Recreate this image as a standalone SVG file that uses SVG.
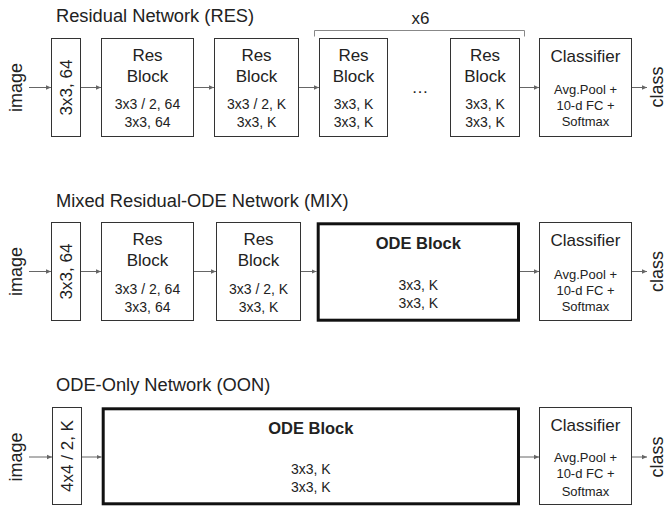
<svg xmlns="http://www.w3.org/2000/svg" width="668" height="506" viewBox="0 0 668 506">
<defs>
<marker id="ah" markerWidth="6" markerHeight="6" refX="5" refY="3" orient="auto" markerUnits="userSpaceOnUse">
<path d="M0,0.8 L5,3 L0,5.2 Z" fill="#666"/>
</marker>
<style>
text{font-family:"Liberation Sans",Arial,sans-serif;fill:#222}
.title{font-size:18.3px}
.big{font-size:17px;text-anchor:middle}
.lab{font-size:18px;text-anchor:middle}
.sm{font-size:14px;text-anchor:middle}
.xs{font-size:13px;text-anchor:middle}
.bold{font-size:16.5px;font-weight:bold;text-anchor:middle}
.box{fill:#fff;stroke:#333;stroke-width:1}
.thick{fill:#fff;stroke:#111;stroke-width:3}
.arr{stroke:#666;stroke-width:1;fill:none;marker-end:url(#ah)}
.br{stroke:#888;stroke-width:1;fill:none}
</style>
</defs>
<rect width="668" height="506" fill="#fff"/>

<g id="titles">
<text class="title" x="56" y="22">Residual Network (RES)</text>
<text class="title" x="56" y="206.5">Mixed Residual-ODE Network (MIX)</text>
<text class="title" x="56" y="391">ODE-Only Network (OON)</text>
</g>

<g id="connectors">
<path class="arr" d="M29,87.5 H51"/>
<path class="arr" d="M81,87.5 H101"/>
<path class="arr" d="M194,87.5 H214"/>
<path class="arr" d="M299,87.5 H319"/>
<path class="arr" d="M520,87.5 H539"/>
<path class="arr" d="M632,87.5 H647"/>

<path class="arr" d="M29,271.5 H51"/>
<path class="arr" d="M81,271.5 H101"/>
<path class="arr" d="M194,271.5 H216"/>
<path class="arr" d="M301,271.5 H316.5"/>
<path class="arr" d="M520,271.5 H539"/>
<path class="arr" d="M632,271.5 H647"/>

<path class="arr" d="M29,457 H52"/>
<path class="arr" d="M82,457 H101.5"/>
<path class="arr" d="M520,457 H539"/>
<path class="arr" d="M632,457 H647"/>
</g>

<!-- Row 1 -->
<g id="res-image"><text class="lab" transform="translate(22,87.5) rotate(-90)">image</text></g>
<g id="res-conv"><rect class="box" x="51.5" y="38.5" width="29" height="98"/>
<text class="big" transform="translate(72,87.5) rotate(-90)">3x3, 64</text></g>
<g id="res-block1"><rect class="box" x="101.5" y="38.5" width="92" height="98"/>
<text class="big" x="147.5" y="60.5">Res</text><text class="big" x="147.5" y="81.5">Block</text>
<text class="sm" x="147.5" y="109">3x3 / 2, 64</text><text class="sm" x="147.5" y="127">3x3, 64</text></g>
<g id="res-block2"><rect class="box" x="214.5" y="38.5" width="84" height="98"/>
<text class="big" x="256.5" y="60.5">Res</text><text class="big" x="256.5" y="81.5">Block</text>
<text class="sm" x="256.5" y="109">3x3 / 2, K</text><text class="sm" x="256.5" y="127">3x3, K</text></g>
<g id="res-block3"><rect class="box" x="319.5" y="38.5" width="68" height="98"/>
<text class="big" x="353.5" y="60.5">Res</text><text class="big" x="353.5" y="81.5">Block</text>
<text class="sm" x="353.5" y="109">3x3, K</text><text class="sm" x="353.5" y="127">3x3, K</text></g>
<g id="res-dots"><text class="big" x="420" y="93">…</text></g>
<g id="res-block4"><rect class="box" x="450.5" y="38.5" width="69" height="98"/>
<text class="big" x="485" y="60.5">Res</text><text class="big" x="485" y="81.5">Block</text>
<text class="sm" x="485" y="109">3x3, K</text><text class="sm" x="485" y="127">3x3, K</text></g>
<g id="res-x6"><path class="br" d="M314.5,36.5 V30.5 H524.5 V36.5"/>
<text class="big" x="420.5" y="24">x6</text></g>
<g id="res-classifier"><rect class="box" x="539.5" y="38.5" width="92" height="98"/>
<text class="big" x="585.5" y="62">Classifier</text>
<text class="xs" x="585.5" y="93.5">Avg.Pool +</text><text class="xs" x="585.5" y="109.5">10-d FC +</text><text class="xs" x="585.5" y="126">Softmax</text></g>
<g id="res-class"><text class="lab" transform="translate(662.5,87) rotate(-90)">class</text></g>

<!-- Row 2 -->
<g id="mix-image"><text class="lab" transform="translate(22,271.5) rotate(-90)">image</text></g>
<g id="mix-conv"><rect class="box" x="51.5" y="222.5" width="29" height="98"/>
<text class="big" transform="translate(72,271.5) rotate(-90)">3x3, 64</text></g>
<g id="mix-block1"><rect class="box" x="101.5" y="222.5" width="92" height="98"/>
<text class="big" x="147.5" y="245">Res</text><text class="big" x="147.5" y="266">Block</text>
<text class="sm" x="147.5" y="293.5">3x3 / 2, 64</text><text class="sm" x="147.5" y="311.5">3x3, 64</text></g>
<g id="mix-block2"><rect class="box" x="216.5" y="222.5" width="84" height="98"/>
<text class="big" x="258.5" y="245">Res</text><text class="big" x="258.5" y="266">Block</text>
<text class="sm" x="258.5" y="293.5">3x3 / 2, K</text><text class="sm" x="258.5" y="311.5">3x3, K</text></g>
<g id="mix-ode"><rect class="thick" x="318.2" y="223.8" width="200.3" height="96.4"/>
<text class="bold" x="418.3" y="248.5">ODE Block</text>
<text class="sm" x="418.3" y="289.5">3x3, K</text><text class="sm" x="418.3" y="307.5">3x3, K</text></g>
<g id="mix-classifier"><rect class="box" x="539.5" y="222.5" width="92" height="98"/>
<text class="big" x="585.5" y="246">Classifier</text>
<text class="xs" x="585.5" y="278.5">Avg.Pool +</text><text class="xs" x="585.5" y="294.5">10-d FC +</text><text class="xs" x="585.5" y="310.5">Softmax</text></g>
<g id="mix-class"><text class="lab" transform="translate(662.5,271.5) rotate(-90)">class</text></g>

<!-- Row 3 -->
<g id="oon-image"><text class="lab" transform="translate(22,457) rotate(-90)">image</text></g>
<g id="oon-conv"><rect class="box" x="52.5" y="407.5" width="29" height="97"/>
<text class="big" transform="translate(73,456) rotate(-90)">4x4 / 2, K</text></g>
<g id="oon-ode"><rect class="thick" x="103.2" y="408.8" width="415.3" height="95"/>
<text class="bold" x="310.8" y="433.5">ODE Block</text>
<text class="sm" x="310.8" y="474">3x3, K</text><text class="sm" x="310.8" y="492">3x3, K</text></g>
<g id="oon-classifier"><rect class="box" x="539.5" y="407.5" width="92" height="97"/>
<text class="big" x="585.5" y="431">Classifier</text>
<text class="xs" x="585.5" y="462">Avg.Pool +</text><text class="xs" x="585.5" y="478">10-d FC +</text><text class="xs" x="585.5" y="495.5">Softmax</text></g>
<g id="oon-class"><text class="lab" transform="translate(662.5,457) rotate(-90)">class</text></g>
</svg>
